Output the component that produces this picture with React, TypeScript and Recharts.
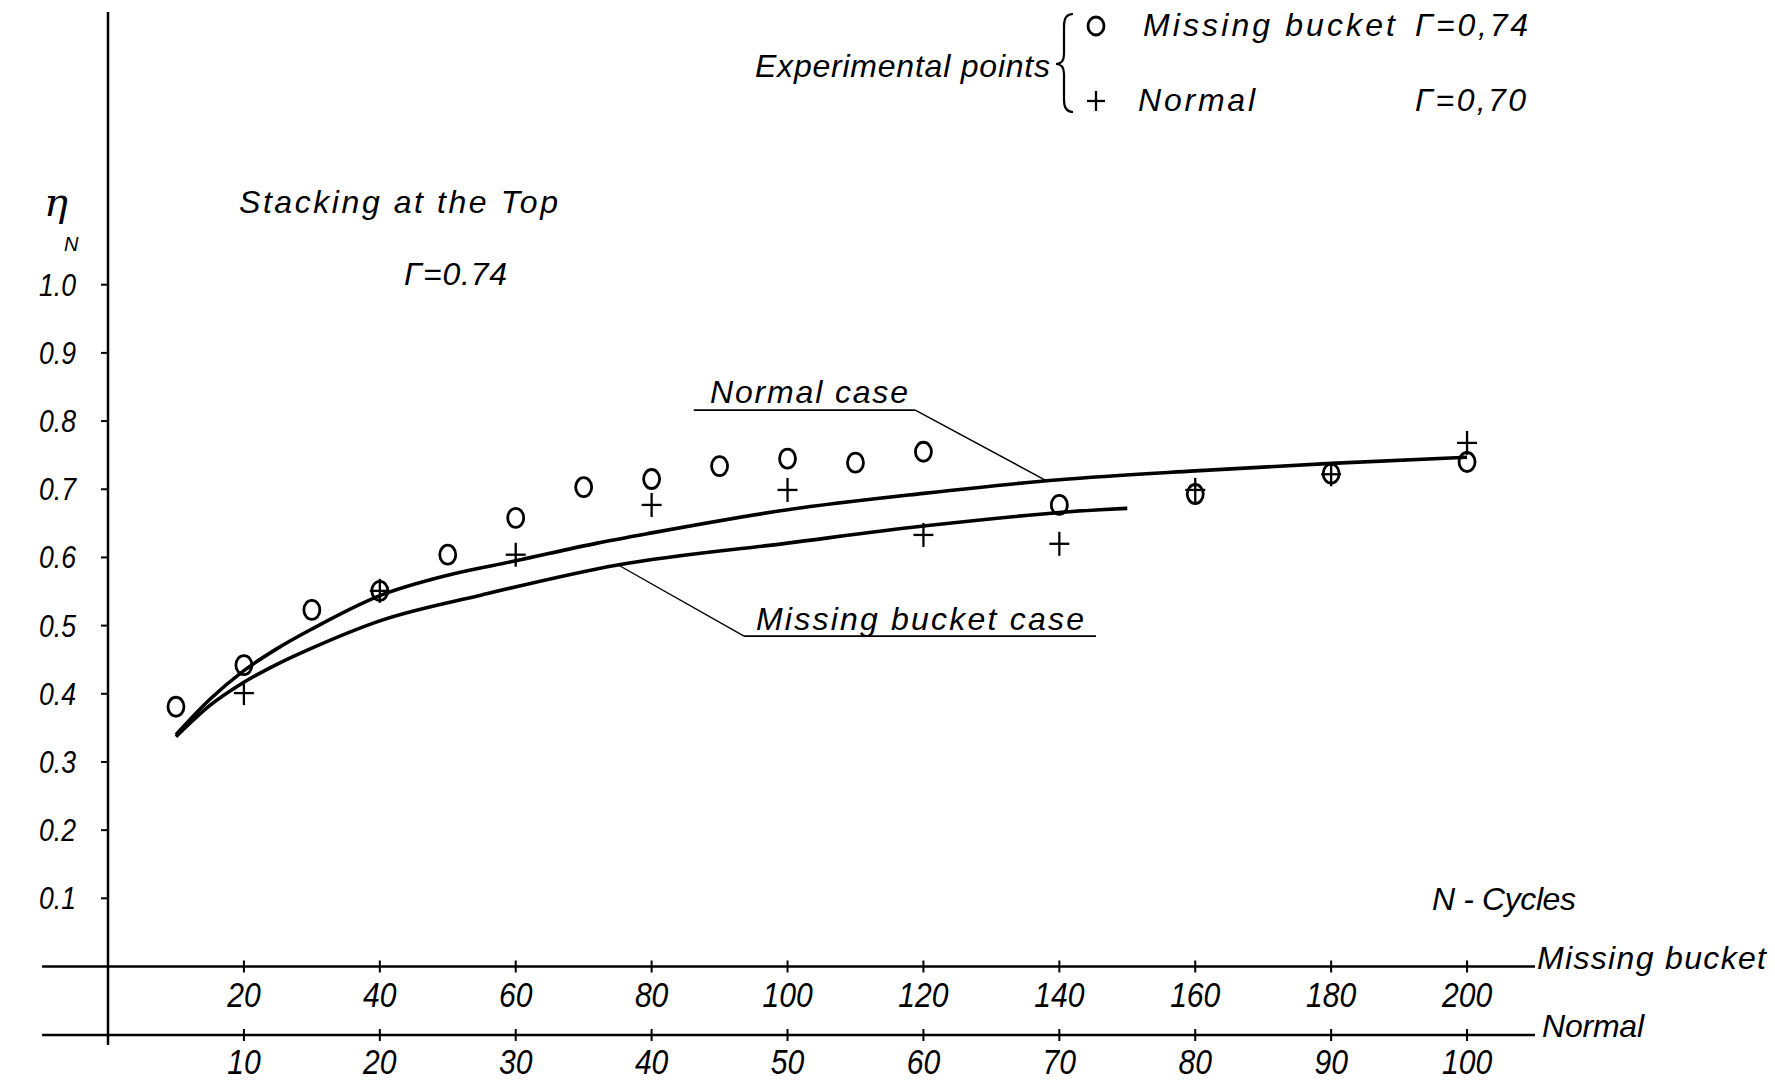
import React from 'react';
import { ComposedChart, XAxis, YAxis, Line, Scatter, ReferenceLine, Customized } from 'recharts';

const FONT = '"Liberation Sans", Arial, sans-serif';
const W = 1775;
const H = 1087;

// Experimental points – missing bucket (x in missing-bucket cycles)
const mbCycles = [10, 20, 30, 40, 50, 60, 70, 80, 90, 100, 110, 120, 140, 160, 180, 200];
const mbEta = [0.381, 0.442, 0.523, 0.551, 0.604, 0.658, 0.703, 0.715, 0.734, 0.745, 0.739, 0.755, 0.677, 0.693, 0.723, 0.740];

// Experimental points – normal (x in normal cycles)
const normCycles = [10, 20, 30, 40, 50, 60, 70, 80, 90, 100];
const normEta = [0.401, 0.551, 0.604, 0.677, 0.699, 0.633, 0.620, 0.699, 0.722, 0.768];

// Curve: normal case (x in normal cycles)
const normCurveX = [5, 7.5, 10, 12.5, 15, 20, 25, 30, 36, 40, 50, 60, 70, 80, 90, 100];
const normCurveY = [0.340, 0.392, 0.434, 0.467, 0.495, 0.544, 0.574, 0.595, 0.621, 0.636, 0.670, 0.694, 0.714, 0.727, 0.738, 0.747];

// Curve: missing bucket case (x in missing-bucket cycles)
const mbCurveX = [10, 15, 20, 25, 30, 40, 55, 75, 100, 120, 146, 150];
const mbCurveY = [0.337, 0.383, 0.417, 0.444, 0.467, 0.507, 0.545, 0.589, 0.621, 0.646, 0.670, 0.672];

const mbTicks = [20, 40, 60, 80, 100, 120, 140, 160, 180, 200];
const normTicks = [10, 20, 30, 40, 50, 60, 70, 80, 90, 100];
const yTicks = [0.1, 0.2, 0.3, 0.4, 0.5, 0.6, 0.7, 0.8, 0.9, 1.0];

const mbPoints = mbCycles.map((x, i) => ({ x, y: mbEta[i] }));
const normPoints = normCycles.map((x, i) => ({ x, y: normEta[i] }));
const normCurve = normCurveX.map((x, i) => ({ x, y: normCurveY[i] }));
const mbCurve = mbCurveX.map((x, i) => ({ x, y: mbCurveY[i] }));

const circleShape = (p: any) => (
  <ellipse cx={p.cx} cy={p.cy} rx={8} ry={9.5} fill="none" stroke="#000" strokeWidth={2.8} />
);
const plusShape = (p: any) => (
  <g stroke="#000" strokeWidth={2.3}>
    <line x1={p.cx - 10} x2={p.cx + 10} y1={p.cy} y2={p.cy} />
    <line x1={p.cx} x2={p.cx} y1={p.cy - 12} y2={p.cy + 12} />
  </g>
);

const XTick = (props: any) => {
  const { x, y, payload, dy } = props;
  return (
    <g>
      <line x1={x} x2={x} y1={y - 6} y2={y + 6} stroke="#000" strokeWidth={2} />
      <g transform={`translate(${x},${y + dy}) scale(0.86,1)`}>
        <text x={0} y={0} textAnchor="middle" fontSize={35} fontStyle="italic" fontFamily={FONT} fill="#000">
          {payload.value}
        </text>
      </g>
    </g>
  );
};

const YTick = (props: any) => {
  const { x, y, payload } = props;
  return (
    <g transform={`translate(${x},${y + 11}) scale(0.86,1)`}>
      <text x={0} y={0} textAnchor="end" fontSize={31} fontStyle="italic" fontFamily={FONT} fill="#000">
        {Number(payload.value).toFixed(1)}
      </text>
    </g>
  );
};

const T = ({ x, y, children, size = 32, len }: any) => (
  <text x={x} y={y} fontSize={size} fontStyle="italic" fontFamily={FONT} fill="#000" textLength={len} lengthAdjust="spacing">
    {children}
  </text>
);

const Annotations = () => (
  <g>
    {/* y-axis title */}
    <text x={44} y={216} fontSize={40} fontStyle="italic" fontFamily="'DejaVu Serif', serif" fill="#000">η</text>
    <text x={64} y={251} fontSize={20} fontStyle="italic" fontFamily={FONT} fill="#000">N</text>

    <T x={239} y={213} len={319}>Stacking at the Top</T>
    <T x={404} y={285} len={103}>Γ=0.74</T>

    {/* legend */}
    <T x={755} y={77} len={295}>Experimental points</T>
    <path d="M1073 14 Q1064 14 1064 26 L1064 54 Q1064 64 1056 64 Q1064 64 1064 74 L1064 100 Q1064 112 1073 112" fill="none" stroke="#000" strokeWidth={2.2} />
    <ellipse cx={1096} cy={26} rx={8} ry={9} fill="none" stroke="#000" strokeWidth={2.8} />
    <T x={1143} y={36} len={252}>Missing bucket</T>
    <T x={1415} y={36} len={113}>Γ=0,74</T>
    <g stroke="#000" strokeWidth={2.3}>
      <line x1={1087} x2={1105} y1={101} y2={101} />
      <line x1={1096} x2={1096} y1={91} y2={111} />
    </g>
    <T x={1138} y={111} len={117}>Normal</T>
    <T x={1415} y={111} len={111}>Γ=0,70</T>

    <T x={710} y={403} len={198}>Normal case</T>
    <T x={756} y={630} len={328}>Missing bucket case</T>
    <T x={1432} y={910} len={144}>N - Cycles</T>

    <T x={1537} y={969} len={229}>Missing bucket</T>
    <T x={1542} y={1037} len={102}>Normal</T>
  </g>
);

export default function App() {
  return (
    <div style={{ position: 'absolute', left: 0, top: 0, width: W, height: H, background: '#fff' }}>
      <ComposedChart width={W} height={H} margin={{ top: 12, right: 240, bottom: 2, left: 8 }}>
        <XAxis
          xAxisId="mb"
          type="number"
          dataKey="x"
          domain={[0, 210]}
          ticks={mbTicks}
          allowDataOverflow
          tickLine={false}
          tickSize={0}
          tickMargin={0}
          tick={<XTick dy={40} />}
          axisLine={{ stroke: '#000', strokeWidth: 2.5 }}
          height={68.5}
        />
        <XAxis
          xAxisId="n"
          type="number"
          dataKey="x"
          domain={[0, 105]}
          ticks={normTicks}
          allowDataOverflow
          tickLine={false}
          tickSize={0}
          tickMargin={0}
          tick={<XTick dy={39} />}
          axisLine={{ stroke: '#000', strokeWidth: 2.5 }}
          height={50}
        />
        <YAxis
          yAxisId="y"
          type="number"
          domain={[0, 1.4]}
          ticks={yTicks}
          allowDataOverflow
          width={100}
          tickSize={7}
          tickMargin={25}
          tick={<YTick />}
          tickLine={{ stroke: '#000', strokeWidth: 2 }}
          axisLine={{ stroke: '#000', strokeWidth: 2.5 }}
        />

        {/* axis extensions */}
        <ReferenceLine xAxisId="mb" yAxisId="y" segment={[{ x: 0, y: 0 }, { x: 0, y: -0.115 }]} ifOverflow="visible" stroke="#000" strokeWidth={2.5} />
        <ReferenceLine xAxisId="mb" yAxisId="y" segment={[{ x: -9.7, y: 0 }, { x: 0, y: 0 }]} ifOverflow="visible" stroke="#000" strokeWidth={2.5} />
        <ReferenceLine xAxisId="mb" yAxisId="y" segment={[{ x: -9.7, y: -0.1004 }, { x: 0, y: -0.1004 }]} ifOverflow="visible" stroke="#000" strokeWidth={2.5} />

        {/* leader lines */}
        <ReferenceLine xAxisId="mb" yAxisId="y" segment={[{ x: 86.2, y: 0.816 }, { x: 118.8, y: 0.816 }]} ifOverflow="visible" stroke="#000" strokeWidth={1.8} />
        <ReferenceLine xAxisId="mb" yAxisId="y" segment={[{ x: 118.8, y: 0.816 }, { x: 138.2, y: 0.712 }]} ifOverflow="visible" stroke="#000" strokeWidth={1.4} />
        <ReferenceLine xAxisId="mb" yAxisId="y" segment={[{ x: 93.6, y: 0.4846 }, { x: 145.4, y: 0.4846 }]} ifOverflow="visible" stroke="#000" strokeWidth={1.8} />
        <ReferenceLine xAxisId="mb" yAxisId="y" segment={[{ x: 93.6, y: 0.4846 }, { x: 74.9, y: 0.59 }]} ifOverflow="visible" stroke="#000" strokeWidth={1.4} />

        <Line xAxisId="n" yAxisId="y" data={normCurve} dataKey="y" type="monotone" stroke="#000" strokeWidth={3.6} dot={false} activeDot={false} isAnimationActive={false} />
        <Line xAxisId="mb" yAxisId="y" data={mbCurve} dataKey="y" type="monotone" stroke="#000" strokeWidth={3.6} dot={false} activeDot={false} isAnimationActive={false} />

        <Scatter xAxisId="mb" yAxisId="y" data={mbPoints} dataKey="y" shape={circleShape} isAnimationActive={false} />
        <Scatter xAxisId="n" yAxisId="y" data={normPoints} dataKey="y" shape={plusShape} isAnimationActive={false} />

        <Customized component={<Annotations />} />
      </ComposedChart>
    </div>
  );
}
